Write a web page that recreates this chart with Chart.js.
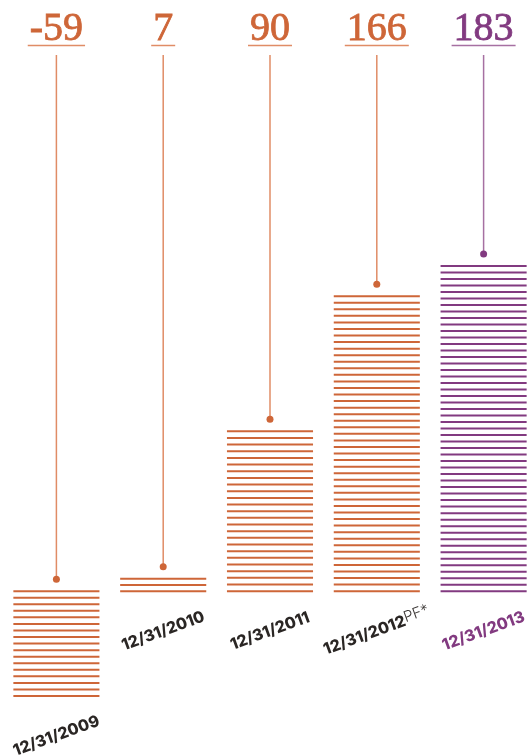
<!DOCTYPE html>
<html>
<head>
<meta charset="utf-8">
<script src="https://cdn.jsdelivr.net/npm/chart.js@4"></script>
<style>
  html, body { margin: 0; background: #fff; overflow: hidden; }
</style>
</head>
<body>
<canvas id="chart" width="537" height="756"></canvas>
<script>
const categories = ['12/31/2009', '12/31/2010', '12/31/2011', '12/31/2012', '12/31/2013'];
const suffixes = ['', '', '', 'PF*', ''];
const values = [-59, 7, 90, 166, 183];
const valueLabels = ['-59', '7', '90', '166', '183'];

const orange = 'rgb(206, 102, 56)';
const orangeLight = 'rgb(224, 140, 102)';
const purple = 'rgb(130, 58, 128)';
const purpleLight = 'rgb(166, 112, 162)';
const mainColors = [orange, orange, orange, orange, purple];
const lightColors = [orangeLight, orangeLight, orangeLight, orangeLight, purpleLight];

// stripes, dots, value labels and dates
const stripePlugin = {
    id: 'stripes',
    afterDatasetsDraw(chart) {
        const ctx = chart.ctx;
        const meta = chart.getDatasetMeta(0);
        meta.data.forEach((bar, i) => {
            const p = bar.getProps(['x', 'y', 'base', 'width'], true);
            const left = p.x - p.width / 2;
            const right = p.x + p.width / 2;
            const h = p.y - p.base;
            const n = Math.max(1, Math.round(Math.abs(h) / 6.55));
            const step = h / n;

            ctx.save();
            ctx.strokeStyle = mainColors[i];
            ctx.lineWidth = 2;
            for (let k = 0; k <= n; k++) {
                const yy = p.base + k * step;
                ctx.beginPath();
                ctx.moveTo(left, yy);
                ctx.lineTo(right, yy);
                ctx.stroke();
            }

            // value on top
            const top = Math.min(p.y, p.base);
            const bottom = Math.max(p.y, p.base);
            ctx.font = '40px "Liberation Serif"';
            ctx.fillStyle = mainColors[i];
            ctx.strokeStyle = mainColors[i];
            ctx.lineWidth = 0.8;
            ctx.textAlign = 'center';
            ctx.textBaseline = 'alphabetic';
            ctx.fillText(valueLabels[i], p.x, 40);
            ctx.strokeText(valueLabels[i], p.x, 40);
            const tw = ctx.measureText(valueLabels[i]).width;

            ctx.strokeStyle = lightColors[i];
            ctx.lineWidth = 1.5;
            ctx.beginPath();
            ctx.moveTo(p.x - tw / 2 - 2, 45.5);
            ctx.lineTo(p.x + tw / 2 + 2, 45.5);
            ctx.stroke();

            const dotY = top - 12;
            ctx.beginPath();
            ctx.moveTo(p.x, 55);
            ctx.lineTo(p.x, dotY);
            ctx.stroke();

            ctx.fillStyle = mainColors[i];
            ctx.beginPath();
            ctx.arc(p.x, dotY, 3.5, 0, Math.PI * 2);
            ctx.fill();

            // date label
            ctx.translate(p.x, bottom + 40);
            ctx.rotate(-20 * Math.PI / 180);
            ctx.font = '800 16px Inter';
            const bw = ctx.measureText(categories[i]).width;
            ctx.font = '300 15px Inter';
            const sw = suffixes[i] ? ctx.measureText(suffixes[i]).width : 0;
            const start = -(bw + sw) / 2;
            ctx.textAlign = 'left';
            ctx.textBaseline = 'middle';
            ctx.font = '800 16px Inter';
            ctx.fillStyle = i === 4 ? purple : '#2a2624';
            ctx.fillText(categories[i], start, 0);
            if (suffixes[i]) {
                ctx.font = '300 15px Inter';
                ctx.fillStyle = '#3a3634';
                ctx.fillText(suffixes[i], start + bw, -3);
            }
            ctx.restore();
        });
    }
};

new Chart(document.getElementById('chart').getContext('2d'), {
    type: 'bar',
    data: {
        labels: categories,
        datasets: [{
            data: values,
            backgroundColor: 'rgba(0,0,0,0)',
            borderWidth: 0,
            categoryPercentage: 1,
            barPercentage: 0.806
        }]
    },
    options: {
        responsive: false,
        animation: false,
        layout: { padding: { top: 266, bottom: 60, left: 3, right: 0 } },
        plugins: { legend: { display: false }, tooltip: { enabled: false } },
        scales: {
            x: { display: false },
            y: { display: false, min: Math.min(...values), max: Math.max(...values) }
        }
    },
    plugins: [stripePlugin]
});
</script>
</body>
</html>
